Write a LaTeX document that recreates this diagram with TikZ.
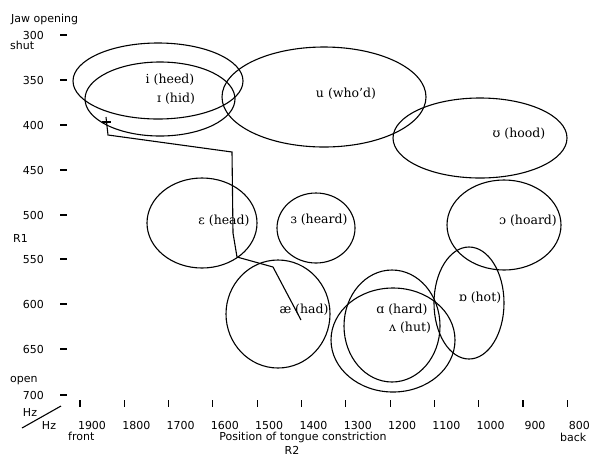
\documentclass[tikz,border=0pt]{standalone}
\usepackage{fontspec}
\setmainfont{DejaVu Serif}
\setsansfont{DejaVu Sans}
\begin{document}
\begin{tikzpicture}[x=1pt,y=-1pt,
  vowel/.style={draw, line width=1.1pt},
  traj/.style={draw, line width=1.1pt},
  lab/.style={font=\fontsize{12.5}{12.5}\selectfont, inner sep=0pt},
  ax/.style={font=\sffamily\fontsize{11}{11}\selectfont, inner sep=0pt},
  tickmark/.style={draw, line width=1.1pt}
]
\path[use as bounding box] (0,0) rectangle (593,456);

% y axis
\node[ax, anchor=west] (jaw) at (11,19) {Jaw opening};
\node[ax, anchor=west] (shut) at (10,45) {shut};
\node[ax, anchor=west] (open) at (10,381) {open};
\node[ax, anchor=west] (r1) at (13,238) {R1};
\foreach \v/\yy in {300/35,350/80,400/125,450/170,500/215,550/259,600/304,650/349,700/395}{
  \node[ax, anchor=east] (y\v) at (44,\yy) {\v};
  \draw[tickmark] (60,\yy) -- (67,\yy);
}

% x axis
\foreach \f in {1900,1800,...,800}{
  \pgfmathsetmacro{\xx}{80+(1900-\f)*0.443}
  \draw[tickmark] (\xx,400) -- (\xx,407);
  \node[ax] (x\f) at (\xx+12,425) {\f};
}
\node[ax] (hz1) at (30,412) {Hz};
\node[ax] (hz2) at (49,425) {Hz};
\coordinate (d1) at (22,428);
\coordinate (d2) at (61,406);
\draw[tickmark] (d1) -- (d2);
\node[ax, anchor=west] (front) at (68,436) {front};
\node[ax, anchor=west] (back) at (560,437) {back};
\node[ax] (pos) at (303,437) {Position of tongue constriction};
\node[ax, anchor=south] (r2) at (292,455) {R2};

% vowel ellipses
\draw[vowel] (158,81) ellipse [x radius=85pt, y radius=38pt];
\draw[vowel] (160,99) ellipse [x radius=75pt, y radius=37pt];
\draw[vowel] (324,97) ellipse [x radius=102pt, y radius=50pt];
\draw[vowel] (480,138) ellipse [x radius=87pt, y radius=40pt];
\draw[vowel] (202,223) ellipse [x radius=55pt, y radius=45pt];
\draw[vowel] (316,228) ellipse [x radius=39pt, y radius=35pt];
\draw[vowel] (504,225) ellipse [x radius=57pt, y radius=45pt];
\draw[vowel] (469,303) ellipse [x radius=35pt, y radius=56pt];
\draw[vowel] (278,314) ellipse [x radius=52pt, y radius=54pt];
\draw[vowel] (392,326) ellipse [x radius=48pt, y radius=56pt];
\draw[vowel] (393,340) ellipse [x radius=62pt, y radius=52pt];

% labels
\node[lab] (heed) at (170,80) {i (heed)};
\node[lab] (hid) at (176,99) {ɪ (hid)};
\node[lab] (whod) at (346,94) {u (who'd)};
\node[lab] (hood) at (519,134) {ʊ (hood)};
\node[lab] (head) at (224,221) {ɛ (head)};
\node[lab] (heard) at (319,220) {ɜ (heard)};
\node[lab] (hoard) at (528,221) {ɔ (hoard)};
\node[lab] (hot) at (480,298) {ɒ (hot)};
\node[lab] (had) at (304,310) {æ (had)};
\node[lab] (hard) at (402,310) {ɑ (hard)};
\node[lab] (hut) at (410,328) {ʌ (hut)};

% trajectory
\coordinate (t0) at (106,117);
\coordinate (t1) at (108,135);
\coordinate (t2) at (232,152);
\coordinate (t3) at (233,233);
\coordinate (t4) at (237,257);
\coordinate (t5) at (273,267);
\coordinate (t6) at (301,320);
\coordinate (pl) at (102,122);
\coordinate (pr) at (111,122);
\draw[traj] (pl) -- (pr);
\draw[traj] (t0) -- (t1) -- (t2) -- (t3) -- (t4) -- (t5) -- (t6);
\end{tikzpicture}
\end{document}
